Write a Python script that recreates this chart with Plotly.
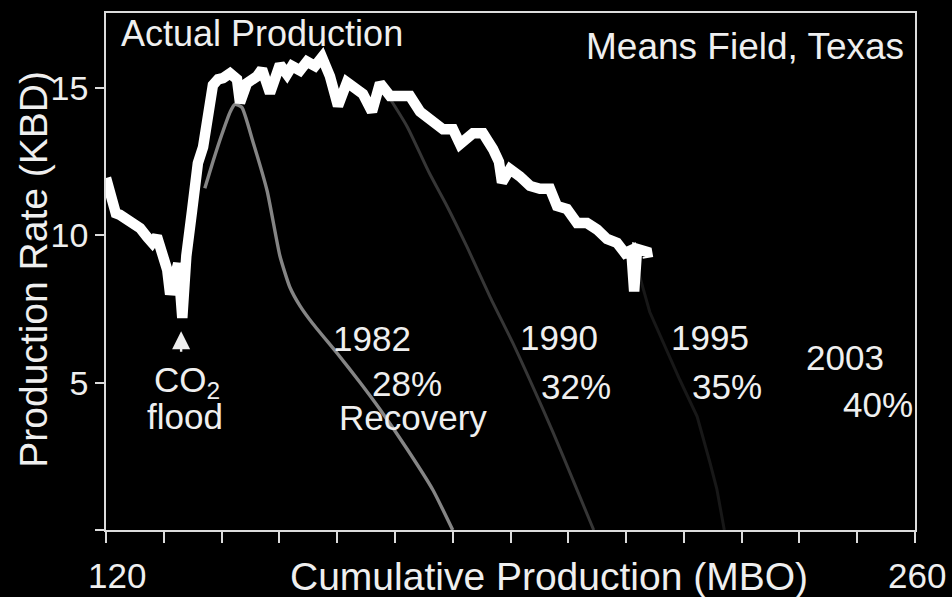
import plotly.graph_objects as go

# Actual field production: cumulative production (MBO) vs rate (KBD)
actual_cum = [120.0, 120.9, 121.7, 122.4, 124.2, 125.9, 127.1, 128.0, 128.8, 129.7,
              130.6, 131.1, 131.9, 132.5, 133.2, 133.9, 134.9, 135.4, 135.9, 136.8,
              137.7, 138.5, 139.4, 140.25, 141.46, 142.67, 143.19, 144.4, 146.13, 147.0,
              148.38, 150.1, 151.32, 152.19, 153.57, 154.78, 156.17, 157.38, 158.76, 160.15,
              161.7, 163.44, 164.47, 166.03, 167.42, 169.15, 170.88, 172.61, 174.34, 176.07,
              178.32, 180.05, 181.26, 183.51, 185.24, 186.97, 188.0, 188.53, 189.91, 191.64,
              193.37, 195.1, 196.83, 198.04, 199.77, 201.51, 203.24, 204.97, 206.7, 208.43,
              209.81, 210.9, 211.4, 211.9, 213.62, 213.8]
actual_rate = [11.95, 11.3, 10.75, 10.7, 10.45, 10.25, 9.95, 9.75, 9.97, 9.27,
               8.83, 8.0, 8.7, 9.05, 7.2, 9.3, 10.85, 11.6, 12.45, 13.0,
               14.25, 15.1, 15.3, 15.34, 15.5, 15.3, 14.5, 15.17, 15.4, 15.64,
               14.83, 15.8, 15.47, 15.75, 15.6, 15.9, 15.75, 16.05, 15.4, 14.4,
               15.2, 14.9, 14.8, 14.2, 15.17, 14.73, 14.7, 14.73, 14.2, 13.98,
               13.6, 13.6, 13.1, 13.47, 13.47, 12.93, 12.5, 11.8, 12.25, 12.0,
               11.68, 11.58, 11.58, 11.0, 10.9, 10.42, 10.42, 10.2, 9.88, 9.75,
               9.4, 9.5, 8.1, 9.54, 9.44, 9.24]

# Projected decline curves by year of forecast
proj_1982_cum = [137.1, 138.5, 140.0, 141.5, 142.3, 143.5, 145.4, 147.9, 150.1, 151.8,
                 153.6, 155.8, 160.0, 164.0, 167.4, 172.1, 176.6, 180.0]
proj_1982_rate = [11.6, 12.5, 13.4, 14.2, 14.45, 14.35, 13.2, 11.5, 9.3, 8.25,
                  7.6, 7.0, 6.0, 5.0, 4.1, 2.75, 1.35, 0.0]

proj_1990_cum = [168.8, 172.1, 176.0, 179.0, 182.5, 186.5, 190.4, 193.9, 197.4, 200.8, 204.4]
proj_1990_rate = [14.75, 13.7, 12.1, 11.0, 9.6, 7.9, 6.35, 4.85, 3.3, 1.7, 0.0]

proj_1995_cum = [211.8, 214.1, 219.3, 222.3, 224.5, 225.7, 227.0]
proj_1995_rate = [9.0, 7.4, 5.1, 3.85, 2.3, 1.4, 0.0]

# Forecast labels: year and recovery factor
forecast_years = ["1982", "1990", "1995", "2003"]
recovery_pct = ["28%", "32%", "35%", "40%"]

x_ticks = list(range(120, 261, 10))
y_ticks = [0, 5, 10, 15]
y_tick_text = ["", "5", "10", "15"]
x_end_labels = ["120", "260"]

FONT = "Liberation Sans, Arial, sans-serif"
TXT = "#efefef"
FRAME = "#dcdcdc"

# plot area in pixels (for placing free text)
L, R, T, B = 106, 915, 13, 530.5


def px(x, y):
    return (x - L) / (R - L), (B - y) / (B - T)


fig = go.Figure()

fig.add_trace(go.Scatter(x=proj_1995_cum, y=proj_1995_rate, mode="lines",
                         line=dict(color="#181818", width=3), hoverinfo="skip"))
fig.add_trace(go.Scatter(x=proj_1990_cum, y=proj_1990_rate, mode="lines",
                         line=dict(color="#363636", width=3, shape="spline", smoothing=0.6),
                         hoverinfo="skip"))
fig.add_trace(go.Scatter(x=proj_1982_cum, y=proj_1982_rate, mode="lines",
                         line=dict(color="#858585", width=3.4, shape="spline", smoothing=0.5),
                         hoverinfo="skip"))
fig.add_trace(go.Scatter(x=actual_cum, y=actual_rate, mode="lines",
                         line=dict(color="#ffffff", width=10.5), hoverinfo="skip"))

ann = []


def text(s, x, y, size=35, xanchor="center", angle=0):
    fx, fy = px(x, y)
    ann.append(dict(text=s, x=fx, y=fy, xref="paper", yref="paper", showarrow=False,
                    xanchor=xanchor, yanchor="middle", textangle=angle,
                    font=dict(family=FONT, size=size, color=TXT)))


text("Actual Production", 119, 34, size=36, xanchor="left")
text("Means Field, Texas", 906, 47, size=37, xanchor="right")

year_pos = [(372, 339), (559, 338), (710, 338), (845, 358)]
pct_pos = [(407, 384), (576, 387), (727, 387), (878, 405)]
for yr, (x, y) in zip(forecast_years, year_pos):
    text(yr, x, y)
for pc, (x, y) in zip(recovery_pct, pct_pos):
    text(pc, x, y)
text("Recovery", 413, 418)

text("CO<sub>2</sub>", 187, 382)
text("flood", 185, 417)

text(x_end_labels[0], 117, 576)
text(x_end_labels[1], 917, 576)
text("Cumulative Production (MBO)", 549, 577, size=39)
text("Production Rate (KBD)", 34, 270, size=39, angle=-90)

# CO2 flood start marker
ann.append(dict(text="", x=133.0, y=6.75, xref="x", yref="y", showarrow=True,
                ax=0, ay=22, arrowhead=2, arrowsize=1.5, arrowwidth=2.4,
                arrowcolor=TXT))

fig.update_layout(
    width=952, height=597,
    margin=dict(l=L, r=952 - R, t=T, b=597 - B),
    paper_bgcolor="#000000", plot_bgcolor="#000000",
    showlegend=False,
    annotations=ann,
    xaxis=dict(range=[120, 260], tickvals=x_ticks, ticktext=[""] * len(x_ticks),
               ticks="outside", ticklen=11, tickwidth=1.5, tickcolor=FRAME,
               showline=True, linecolor=FRAME, linewidth=1.5, mirror=True,
               showgrid=False, zeroline=False),
    yaxis=dict(range=[0, 17.55], tickvals=y_ticks, ticktext=y_tick_text,
               ticks="outside", ticklen=9, tickwidth=1.5, tickcolor=FRAME,
               showline=True, linecolor=FRAME, linewidth=1.5, mirror=True,
               showgrid=False, zeroline=False,
               tickfont=dict(family=FONT, size=34, color=TXT)),
)

fig.write_html("out.html")
